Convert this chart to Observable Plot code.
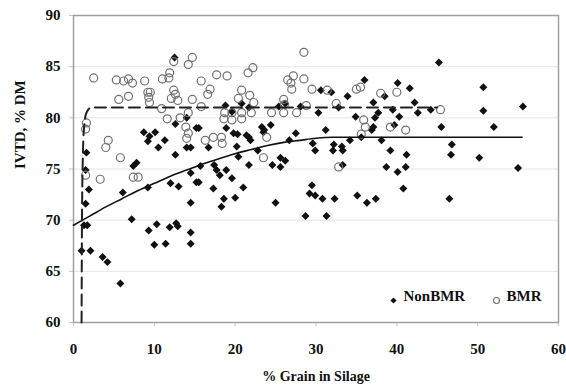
<!DOCTYPE html>
<html>
<head>
<meta charset="utf-8">
<script src="https://cdn.jsdelivr.net/npm/d3@7"></script>
<script src="https://cdn.jsdelivr.net/npm/@observablehq/plot@0.6"></script>
<style>
  html, body { margin: 0; padding: 0; background: #fff; }
</style>
</head>
<body>
<div id="chart"></div>
<script>
// In vitro true digestibility (IVTD, % DM) against grain content of the silage

// NonBMR hybrids
const nonBmrGrain = [
  12.5, 8.7, 9.4, 10.1, 9.2, 11.3, 10.5, 12.6, 14.0, 15.2, 14.0, 14.5, 12.6, 1.6, 1.5, 7.8, 7.4, 14.5, 15.7,
  1.9, 1.5, 1.3, 1.7, 1.0, 2.1, 3.6, 4.2, 5.8, 6.1, 7.2, 9.2, 9.3, 10.3, 10.0, 11.4, 11.9, 12.7, 12.9, 12.0, 13.0, 15.2, 14.5, 14.5, 14.5,
  30.6, 18.8, 19.6, 20.8, 21.7, 25.4, 26.2, 28.1, 30.3, 15.5, 18.9, 19.8, 20.3, 21.4, 21.7, 21.9, 23.3, 23.5, 24.4, 23.6,
  27.5, 26.7, 29.6, 29.9, 31.2, 16.7, 20.2, 22.8, 20.4, 21.7, 25.6, 26.2, 24.6, 25.6, 17.4, 17.7, 18.1, 18.9, 19.6,
  15.5, 17.3, 21.0, 18.6, 18.3, 20.0, 25.0, 29.5, 29.2, 29.9, 30.8, 28.7, 31.3,
  45.2, 36.0, 40.1, 41.6, 31.9, 33.9, 38.5, 37.1, 42.2, 32.8, 39.5, 44.2, 42.6, 37.7, 34.9, 37.3, 40.3, 39.7, 37.1, 36.9,
  45.5, 38.1, 32.2, 32.1, 33.2, 33.3, 34.2, 35.6, 39.2, 41.2, 46.8, 46.7, 33.3, 38.7, 40.1, 41.1,
  32.3, 35.1, 36.3, 37.4, 40.8, 46.5,
  50.7, 50.7, 55.6, 52.0, 50.2, 55.0
];
const nonBmrIvtd = [
  85.9, 78.6, 78.2, 78.6, 77.7, 77.8, 77.1, 79.4, 80.0, 79.0, 77.1, 77.1, 76.4, 76.6, 74.9, 75.6, 75.3, 74.6, 75.3,
  73.0, 71.6, 69.5, 69.5, 67.0, 67.0, 66.4, 65.9, 63.8, 72.7, 70.1, 73.2, 69.0, 69.6, 67.6, 67.7, 69.3, 69.7, 69.4, 73.6, 73.3, 73.7, 71.7, 68.8, 67.7,
  82.7, 81.2, 80.6, 81.4, 81.0, 81.1, 81.4, 81.1, 80.5, 79.0, 79.0, 78.5, 78.4, 78.3, 78.1, 77.8, 79.1, 78.6, 79.3, 78.8,
  78.5, 77.8, 77.5, 76.8, 78.8, 77.1, 77.2, 76.8, 76.2, 75.4, 76.1, 75.8, 75.4, 75.2, 75.4, 74.9, 74.4, 74.9, 74.1,
  73.7, 73.1, 73.2, 72.1, 71.3, 72.2, 71.7, 73.4, 72.6, 72.4, 72.1, 70.4, 70.4,
  85.4, 83.7, 83.4, 82.9, 82.5, 82.1, 82.1, 81.5, 81.5, 81.0, 80.8, 80.8, 80.5, 80.5, 80.1, 80.0, 80.1, 79.3, 79.1, 78.8,
  79.1, 77.8, 77.4, 76.8, 77.2, 76.8, 77.8, 78.1, 76.8, 76.4, 77.4, 76.4, 75.4, 75.2, 74.7, 75.2,
  72.1, 72.4, 71.7, 72.1, 73.1, 72.1,
  83.0, 80.7, 81.1, 79.1, 76.1, 75.1
];

// BMR hybrids
const bmrGrain = [
  2.5, 5.3, 6.2, 6.8, 7.3, 8.8, 11.0, 11.8, 11.9, 12.4, 14.2, 14.7, 15.8, 5.6, 6.8, 9.2, 9.5, 9.3, 9.4,
  12.4, 12.6, 12.1, 12.9, 14.7, 10.9, 1.6, 1.5, 11.6, 13.2, 14.2, 13.9, 14.2, 14.0, 4.3, 4.0, 5.8, 7.4, 8.0, 3.3, 1.5, 15.8,
  28.5, 21.6, 22.2, 17.7, 19.0, 16.9, 16.6, 26.5, 27.2, 26.9, 27.0, 28.5, 29.5, 20.8, 20.4, 21.8, 22.3,
  18.7, 19.6, 18.6, 19.6, 20.8, 22.0, 20.8, 24.5, 26.0, 26.1, 26.0, 27.6, 28.8, 31.4, 16.3, 17.3, 18.3, 18.4, 23.9, 23.5,
  35.0, 35.5, 38.0, 40.0, 32.5, 45.4, 35.9, 36.1, 39.2, 41.1, 35.6, 32.8
];
const bmrIvtd = [
  83.9, 83.7, 83.6, 83.8, 83.4, 83.6, 83.8, 83.9, 84.4, 85.5, 85.2, 85.9, 83.6, 81.8, 82.1, 82.5, 82.5, 82.0, 81.5,
  82.7, 82.3, 81.9, 81.7, 81.8, 80.9, 79.5, 78.9, 79.9, 80.0, 80.5, 79.1, 78.5, 78.0, 77.8, 77.1, 76.1, 74.2, 74.2, 74.0, 74.4, 81.1,
  86.4, 84.4, 84.9, 84.2, 84.1, 82.8, 82.3, 83.7, 84.1, 83.4, 82.8, 83.8, 82.8, 82.7, 81.9, 82.2, 81.5,
  80.5, 80.5, 79.9, 79.8, 80.5, 80.5, 79.9, 80.5, 81.8, 81.3, 80.5, 80.5, 81.2, 82.7, 77.8, 78.1, 78.1, 77.5, 78.1, 76.1,
  82.8, 83.0, 82.4, 82.5, 81.4, 80.8, 79.8, 79.1, 79.1, 78.8, 78.4, 75.2
];

// Fitted response curves
const nonBmrFitGrain = [0, 2, 4, 6, 8, 10, 12, 14, 16, 18, 20, 22, 24, 26, 28, 30, 32, 35, 55.5];
const nonBmrFitIvtd  = [69.5, 70.4, 71.3, 72.1, 72.9, 73.6, 74.3, 74.9, 75.5, 76.0, 76.5, 76.9, 77.3, 77.6, 77.8, 78.0, 78.1, 78.1, 78.1];
const bmrFitGrain = [1.0, 1.05, 1.15, 1.3, 1.6, 2.2, 45];
const bmrFitIvtd  = [60, 70, 76, 79, 80.5, 81, 81];

const xTicks = [0, 10, 20, 30, 40, 50, 60];
const yTicks = [60, 65, 70, 75, 80, 85, 90];
const seriesNames = ["NonBMR", "BMR"];
const xTitle = "% Grain in Silage";
const yTitle = "IVTD, % DM";

const nonBmr = nonBmrGrain.map((g, i) => ({grain: g, ivtd: nonBmrIvtd[i]}));
const bmr = bmrGrain.map((g, i) => ({grain: g, ivtd: bmrIvtd[i]}));
const nonBmrFit = nonBmrFitGrain.map((g, i) => ({grain: g, ivtd: nonBmrFitIvtd[i]}));
const bmrFit = bmrFitGrain.map((g, i) => ({grain: g, ivtd: bmrFitIvtd[i]}));

const serif = "'Liberation Serif', 'Times New Roman', 'DejaVu Serif', serif";

const chart = Plot.plot({
  width: 566,
  height: 391,
  marginLeft: 73,
  marginRight: 8,
  marginTop: 15,
  marginBottom: 69,
  style: {fontFamily: serif, fontSize: "15px", fontWeight: "bold", color: "#111", background: "#fff"},
  x: {domain: [0, 60]},
  y: {domain: [60, 90]},
  marks: [
    Plot.gridY(yTicks.slice(1, -1), {stroke: "#e6e6e6", strokeOpacity: 1}),
    Plot.axisY(yTicks, {tickSize: 4, tickPadding: 9, stroke: "#c4c4c4", label: null, fontSize: 15}),
    Plot.axisX(xTicks, {tickSize: 4, tickPadding: 17, stroke: "#c4c4c4", label: null, fontSize: 15}),
    Plot.frame({stroke: "#a0a0a0", strokeWidth: 1.5}),
    Plot.dot(nonBmr, {x: "grain", y: "ivtd", symbol: "diamond2", r: 3.6, fill: "#111", stroke: "none"}),
    Plot.dot(bmr, {x: "grain", y: "ivtd", symbol: "circle", r: 4, fill: "none", stroke: "#707070", strokeWidth: 1.2}),
    Plot.line(nonBmrFit, {x: "grain", y: "ivtd", stroke: "#111", strokeWidth: 1.6, curve: "monotone-x"}),
    Plot.line(bmrFit, {x: "grain", y: "ivtd", stroke: "#222", strokeWidth: 2, strokeDasharray: "11,6", curve: "monotone-x"}),
    // legend, bottom right inside the frame
    Plot.dot([seriesNames[0]], {frameAnchor: "bottom-right", dx: -165, dy: -22, symbol: "diamond2", r: 2.8, fill: "#111", stroke: "none"}),
    Plot.text([seriesNames[0]], {frameAnchor: "bottom-right", dx: -155, dy: -22, text: d => d, textAnchor: "start", fontSize: 15}),
    Plot.dot([seriesNames[1]], {frameAnchor: "bottom-right", dx: -62, dy: -22, symbol: "circle", r: 3, fill: "none", stroke: "#707070", strokeWidth: 1.1}),
    Plot.text([seriesNames[1]], {frameAnchor: "bottom-right", dx: -52, dy: -22, text: d => d, textAnchor: "start", fontSize: 15}),
    // axis titles
    Plot.text([xTitle], {frameAnchor: "bottom", dy: 58, text: d => d, fontSize: 14}),
    Plot.text([yTitle], {frameAnchor: "left", dx: -53, rotate: -90, text: d => d, fontSize: 15})
  ]
});
document.getElementById("chart").append(chart);
</script>
</body>
</html>
